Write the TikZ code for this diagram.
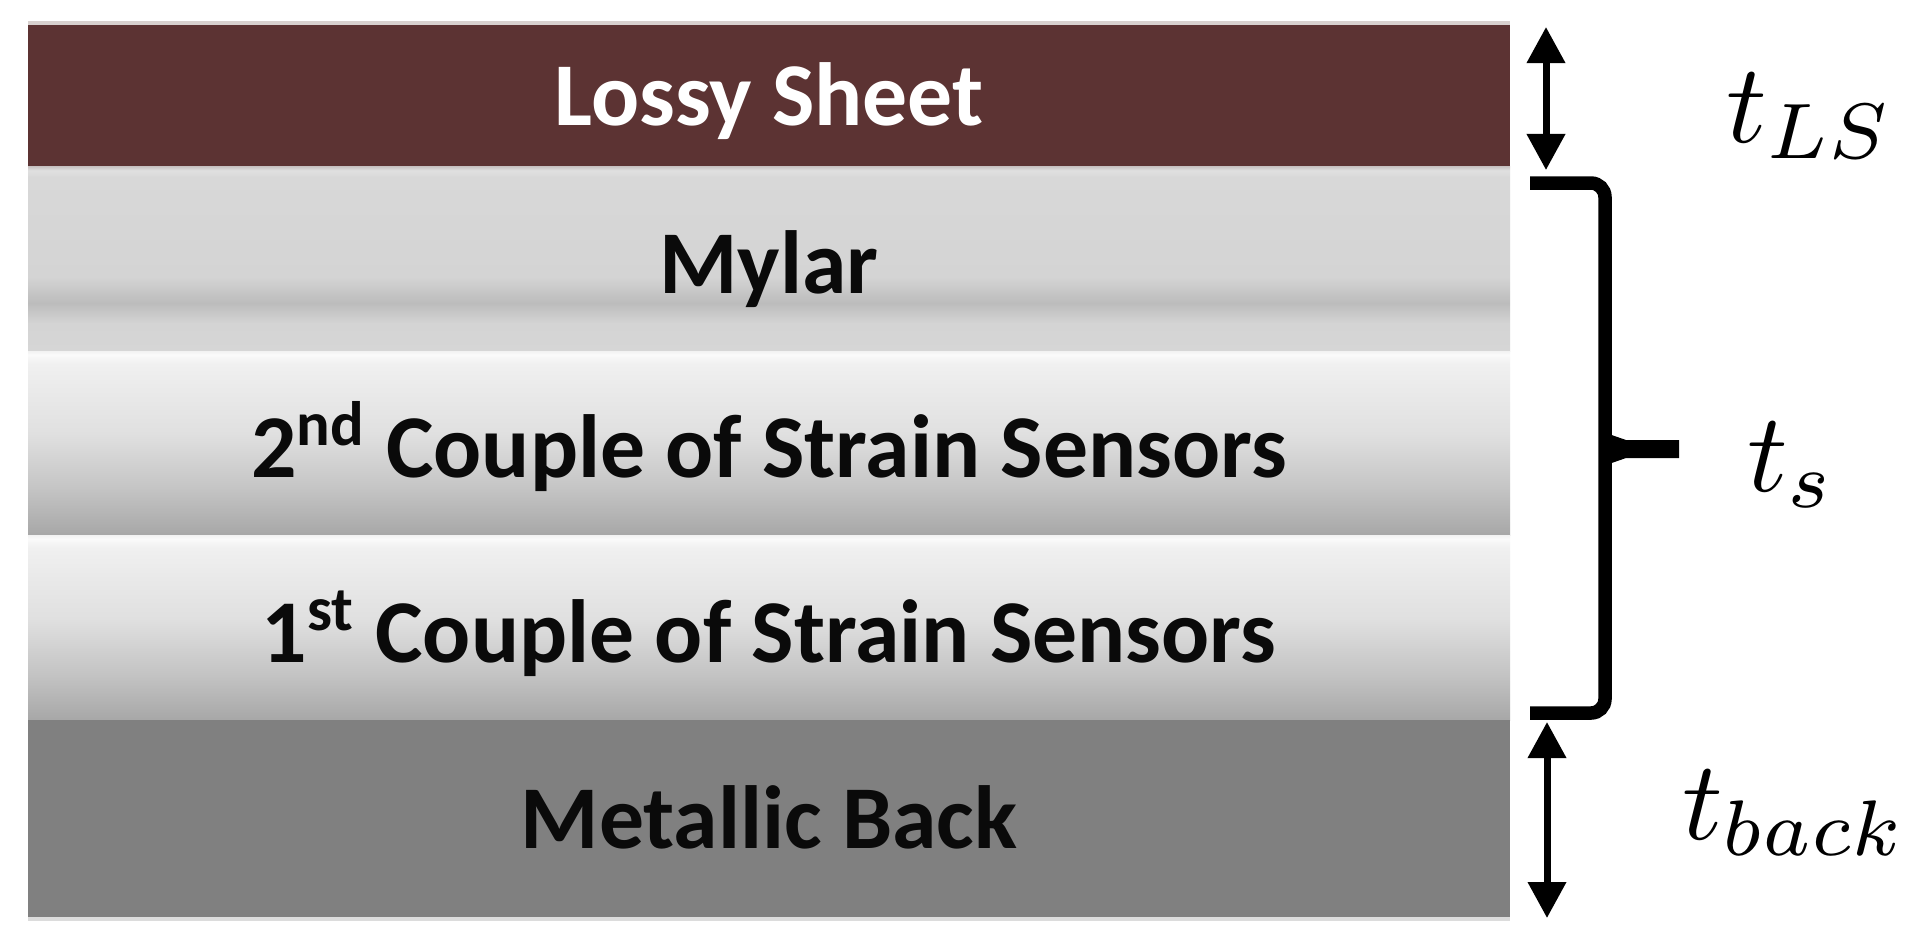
\documentclass[tikz,border=0pt]{standalone}
\usepackage{fontspec}
\newfontfamily\labelfont{Carlito}
\usetikzlibrary{arrows.meta}

\definecolor{lossy}{HTML}{5C3333}
\definecolor{lossystrip}{HTML}{D8D1CF}
\definecolor{metal}{HTML}{808080}
\definecolor{metalstrip}{HTML}{DCDCDC}
\definecolor{ink}{HTML}{0A0A0A}
% mylar colours
\definecolor{mA}{HTML}{D6D6D6}
\definecolor{mB}{HTML}{D4D4D4}
\definecolor{mC}{HTML}{BCBCBC}
\definecolor{mD}{HTML}{D4D4D4}
\definecolor{mE}{HTML}{D8D8D8}
\definecolor{mF}{HTML}{E0E0E0}
\definecolor{mG}{HTML}{C6C0C0}
% sensor colours
\definecolor{sA}{HTML}{A7A7A7}
\definecolor{sB}{HTML}{C4C4C4}
\definecolor{sC}{HTML}{E0E0E0}
\definecolor{sD}{HTML}{F0F0F0}
\definecolor{sE}{HTML}{FAFAFA}
\definecolor{sF}{HTML}{F2F2F2}

\pgfdeclareverticalshading{mylarsh}{100bp}{color(0bp)=(mA); color(25bp)=(mA); color(32.5bp)=(mB); color(38bp)=(mC); color(45bp)=(mD); color(72bp)=(mE); color(73.8bp)=(mF); color(75bp)=(mG); color(100bp)=(mG)}
\pgfdeclareverticalshading{sensorsh}{100bp}{color(0bp)=(sA); color(25bp)=(sA); color(37.5bp)=(sB); color(52.5bp)=(sC); color(71.5bp)=(sD); color(74bp)=(sE); color(75bp)=(sF); color(100bp)=(sF)}

\tikzset{
  layerlabel/.style={font=\labelfont\bfseries\fontsize{25.5}{30}\selectfont, anchor=base, inner sep=0pt, text=ink},
  mathlabel/.style={scale=3.2, anchor=base west, inner sep=0pt},
  dimarrow/.style={line width=0.07cm, {Triangle[length=0.36cm,width=0.37cm]}-{Triangle[length=0.36cm,width=0.37cm]}},
  bracestyle/.style={line width=0.135cm, rounded corners=0.14cm},
}

\begin{document}
\begin{tikzpicture}[x=0.01cm,y=-0.01cm]
\useasboundingbox[fill=white] (0,0) rectangle (1905,944);

% layers
\fill[lossystrip] (28,21) rectangle (1510,26);
\fill[lossy] (28,25) rectangle (1510,166);
\shade[shading=mylarsh] (28,166) rectangle (1510,351);
\shade[shading=sensorsh] (28,351) rectangle (1510,535);
\shade[shading=sensorsh] (28,535) rectangle (1510,720);
\fill[metal] (28,720) rectangle (1510,917);
\fill[metalstrip] (28,917) rectangle (1510,921);

% layer labels
\node[layerlabel, text=white] (ls) at (769,125) {Lossy Sheet};
\node[layerlabel] (my) at (769,293) {Mylar};
\node[layerlabel] (s2) at (769,477) {2\textsuperscript{nd} Couple of Strain Sensors};
\node[layerlabel] (s1) at (769,662) {1\textsuperscript{st} Couple of Strain Sensors};
\node[layerlabel] (mb) at (769,848) {Metallic Back};

% t_LS dimension arrow
\coordinate (lsTop) at (1546,27);
\coordinate (lsBot) at (1546,170);
\draw[dimarrow] (lsTop) -- (lsBot);

% brace
\coordinate (brA) at (1530,183);
\coordinate (brB) at (1605,183);
\coordinate (brC) at (1605,713);
\coordinate (brD) at (1530,713);
\draw[bracestyle] (brA) -- (brB) -- (brC) -- (brD);
\coordinate (tick) at (1679,449);
\fill (1603,432) -- (1626,440) -- (tick |- 0,440) -- (tick |- 0,458) -- (1626,458) -- (1603,466) -- cycle;

% t_back dimension arrow
\coordinate (bkTop) at (1547,722);
\coordinate (bkBot) at (1547,918);
\draw[dimarrow] (bkTop) -- (bkBot);

% labels
\node[mathlabel] (tls) at (1724,142) {$t_{LS}$};
\node[mathlabel] (tss) at (1745,491) {$t_s$};
\node[mathlabel] (tbk) at (1680,839) {$t_{back}$};
\end{tikzpicture}
\end{document}
